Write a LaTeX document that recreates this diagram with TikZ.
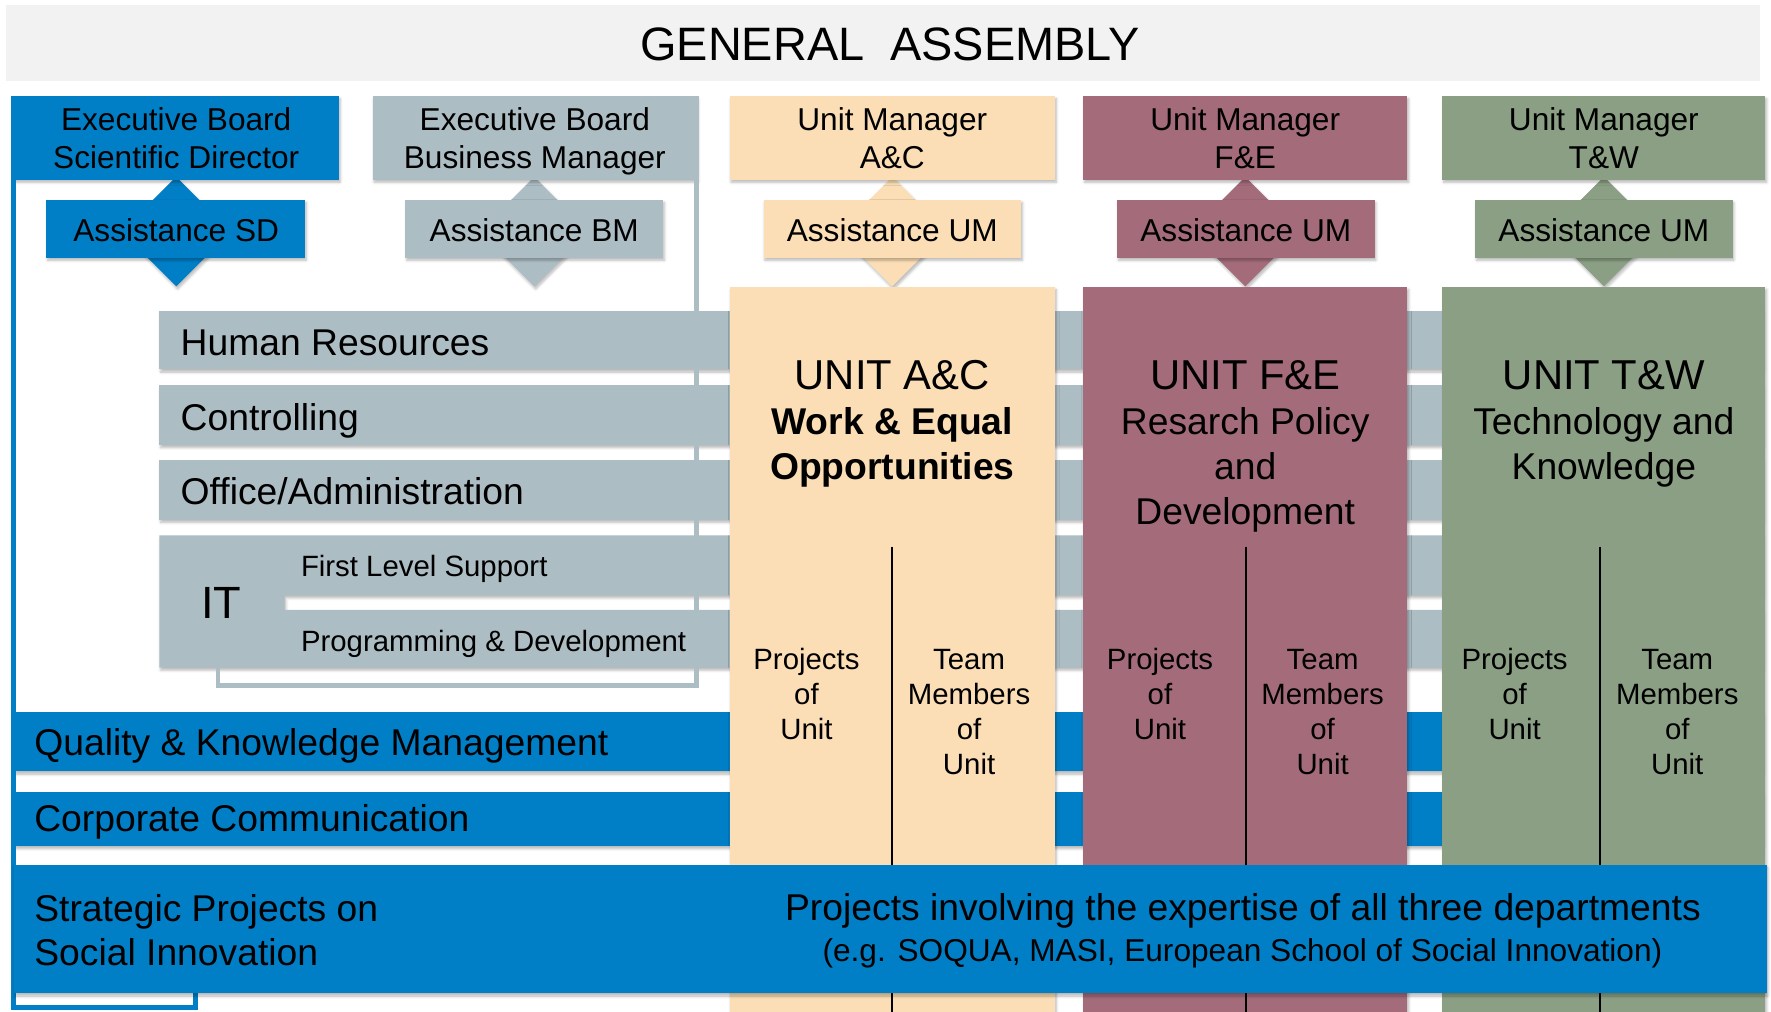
\documentclass[tikz,border=0pt]{standalone}
\usepackage{fontspec}
\setmainfont{Liberation Sans}
\usetikzlibrary{shapes.geometric,shadows.blur}
\definecolor{cblue}{RGB}{0,126,198}
\definecolor{cgray}{RGB}{173,189,196}
\definecolor{cpeach}{RGB}{251,222,181}
\definecolor{cmauve}{RGB}{164,107,122}
\definecolor{csage}{RGB}{138,159,131}
\definecolor{cbanner}{RGB}{242,242,242}
\newcommand{\mkbox}[6]{\node[box,#2,minimum width={(#5)-(#3)},minimum height={(#6)-(#4)}] (#1) at ({((#3)+(#5))/2},{((#4)+(#6))/2}) {};}
\begin{document}
\begin{tikzpicture}[x=1pt,y=-1pt,
  box/.style={rectangle,inner sep=0pt,outer sep=0pt,draw=none},
  sh/.style={blur shadow={shadow xshift=1.2pt,shadow yshift=-2.4pt,shadow blur radius=2.4pt,shadow opacity=28}},
  lbl/.style={inner sep=0pt,outer sep=0pt,text=black},
  ctr/.style={lbl,anchor=base},
  lft/.style={lbl,anchor=base west},
  f41/.style={font=\fontsize{41.5}{50}\selectfont},
  f40/.style={font=\fontsize{40}{48}\selectfont},
  f37/.style={font=\fontsize{37}{44}\selectfont},
  f33/.style={font=\fontsize{33}{39}\selectfont},
  f33b/.style={font=\fontsize{33}{39}\selectfont\bfseries},
  f28/.style={font=\fontsize{28}{34}\selectfont},
  f26/.style={font=\fontsize{26}{31}\selectfont},
  dia/.style={diamond,inner sep=0pt,outer sep=0pt,minimum width=97pt,minimum height=97pt,draw=none,sh},
  divider/.style={draw=black,line width=1.8pt},
  bluel/.style={draw=cblue,line width=4.4pt},
  grayl/.style={draw=cgray,line width=4.4pt},
]
\useasboundingbox (0,0) rectangle (1568,896);

% banner
\mkbox{ga}{fill=cbanner}{5}{4}{1558}{72}
\node[ctr,f41] (gat) at (788,53.7) {GENERAL\ \ ASSEMBLY};

% diamonds behind the assistance boxes
\node[dia,fill=cblue] (dsd) at (156,205) {};
\node[dia,fill=cgray] (dbm) at (473,205) {};
\node[dia,fill=cpeach] (dac) at (790,205) {};
\node[dia,fill=cmauve] (dfe) at (1102.5,205) {};
\node[dia,fill=csage] (dtw) at (1420,205) {};

% top boxes
\mkbox{ebsd}{fill=cblue,sh}{12}{85}{300}{159}
\mkbox{ebbm}{fill=cgray,sh}{330}{85}{617}{159}
\mkbox{umac}{fill=cpeach,sh}{646}{85}{934}{159}
\mkbox{umfe}{fill=cmauve,sh}{959}{85}{1246}{159}
\mkbox{umtw}{fill=csage,sh}{1277}{85}{1563}{159}
\node[ctr,f28] (ebsd1) at (156,115.5) {Executive Board};
\node[ctr,f28] (ebsd2) at (156,149.5) {Scientific Director};
\node[ctr,f28] (ebbm1) at (473.5,115.5) {Executive Board};
\node[ctr,f28] (ebbm2) at (473.5,149.5) {Business Manager};
\node[ctr,f28] (umac1) at (790,115.5) {Unit Manager};
\node[ctr,f28] (umac2) at (790,149.5) {A\&C};
\node[ctr,f28] (umfe1) at (1102.5,115.5) {Unit Manager};
\node[ctr,f28] (umfe2) at (1102.5,149.5) {F\&E};
\node[ctr,f28] (umtw1) at (1420,115.5) {Unit Manager};
\node[ctr,f28] (umtw2) at (1420,149.5) {T\&W};

% assistance boxes
\mkbox{asd}{fill=cblue,sh}{41}{177}{270}{228}
\mkbox{abm}{fill=cgray,sh}{359}{177}{587}{228}
\mkbox{aac}{fill=cpeach,sh}{676}{177}{904}{228}
\mkbox{afe}{fill=cmauve,sh}{989}{177}{1217}{228}
\mkbox{atw}{fill=csage,sh}{1306}{177}{1534}{228}
\node[ctr,f28] (asdt) at (156,214) {Assistance SD};
\node[ctr,f28] (abmt) at (473,214) {Assistance BM};
\node[ctr,f28] (aact) at (790,214) {Assistance UM};
\node[ctr,f28] (afet) at (1103,214) {Assistance UM};
\node[ctr,f28] (atwt) at (1420,214) {Assistance UM};

% grey service bars
\mkbox{hr}{fill=cgray,sh}{141}{275}{1560}{327}
\mkbox{ctrl}{fill=cgray,sh}{141}{341}{1560}{394}
\mkbox{off}{fill=cgray,sh}{141}{407}{1560}{460}
% IT block: one shape with the two sub-bars
\path[fill=cgray,sh] (141,474) -- (1560,474) -- (1560,527) -- (252,527) -- (252,540)
  -- (1560,540) -- (1560,591) -- (141,591) -- cycle;
\node[lft,f33] (hrt) at (160,314.5) {Human Resources};
\node[lft,f33] (ctrlt) at (160,381) {Controlling};
\node[lft,f33] (offt) at (160,446.5) {Office/Administration};
\node[ctr,f40] (itt) at (196,547.5) {IT};
\node[lft,f26] (flst) at (266.5,510.5) {First Level Support};
\node[lft,f26] (pdt) at (266.5,576.5) {Programming \& Development};

% blue bars
\mkbox{qkm}{fill=cblue,sh}{12}{630}{1560}{683}
\mkbox{cc}{fill=cblue,sh}{12}{701}{1560}{749}
\node[lft,f33] (qkmt) at (30.4,668.5) {Quality \& Knowledge Management};
\node[lft,f33] (cct) at (30.4,736.4) {Corporate Communication};

% outline lines
\coordinate (bm1) at (616.5,85);
\coordinate (bm2) at (616.5,607);
\coordinate (bm3) at (193,607);
\coordinate (bm4) at (193,591);
\draw[grayl] (bm1) -- (bm2) -- (bm3) -- (bm4);
\coordinate (sd1) at (12,85);
\coordinate (sd2) at (12,892);
\coordinate (sd3) at (173,892);
\coordinate (sd4) at (173,879);
\draw[bluel] (sd1) -- (sd2) -- (sd3) -- (sd4);

% unit columns
\mkbox{colac}{fill=cpeach,sh}{646}{254}{934}{905}
\mkbox{colfe}{fill=cmauve,sh}{959}{254}{1246}{905}
\mkbox{coltw}{fill=csage,sh}{1277}{254}{1563}{905}
\coordinate (vac) at (790,484);
\coordinate (vfe) at (1103,484);
\coordinate (vtw) at (1417,484);
\draw[divider] (vac) -- (vac |- colac.south);
\draw[divider] (vfe) -- (vfe |- colfe.south);
\draw[divider] (vtw) -- (vtw |- coltw.south);

\node[ctr,f37] (acT) at (790,345) {UNIT A\&C};
\node[ctr,f33b] (acS1) at (790,385) {Work \& Equal};
\node[ctr,f33b] (acS2) at (790,424.5) {Opportunities};
\node[ctr,f37] (feT) at (1102.5,345) {UNIT F\&E};
\node[ctr,f33] (feS1) at (1102.5,385) {Resarch Policy};
\node[ctr,f33] (feS2) at (1102.5,424.5) {and};
\node[ctr,f33] (feS3) at (1102.5,464) {Development};
\node[ctr,f37] (twT) at (1420,345) {UNIT T\&W};
\node[ctr,f33] (twS1) at (1420,385) {Technology and};
\node[ctr,f33] (twS2) at (1420,424.5) {Knowledge};

\node[ctr,f26] (acP1) at (714,592.5) {Projects};
\node[ctr,f26] (acP2) at (714,623.5) {of};
\node[ctr,f26] (acP3) at (714,654.5) {Unit};
\node[ctr,f26] (acM1) at (858,592.5) {Team};
\node[ctr,f26] (acM2) at (858,623.5) {Members};
\node[ctr,f26] (acM3) at (858,654.5) {of};
\node[ctr,f26] (acM4) at (858,685.5) {Unit};
\node[ctr,f26] (feP1) at (1027,592.5) {Projects};
\node[ctr,f26] (feP2) at (1027,623.5) {of};
\node[ctr,f26] (feP3) at (1027,654.5) {Unit};
\node[ctr,f26] (feM1) at (1171,592.5) {Team};
\node[ctr,f26] (feM2) at (1171,623.5) {Members};
\node[ctr,f26] (feM3) at (1171,654.5) {of};
\node[ctr,f26] (feM4) at (1171,685.5) {Unit};
\node[ctr,f26] (twP1) at (1341,592.5) {Projects};
\node[ctr,f26] (twP2) at (1341,623.5) {of};
\node[ctr,f26] (twP3) at (1341,654.5) {Unit};
\node[ctr,f26] (twM1) at (1485,592.5) {Team};
\node[ctr,f26] (twM2) at (1485,623.5) {Members};
\node[ctr,f26] (twM3) at (1485,654.5) {of};
\node[ctr,f26] (twM4) at (1485,685.5) {Unit};

% strategic projects bar
\mkbox{strat}{fill=cblue,sh}{12}{766}{1564}{879.5}
\node[lft,f33] (st1) at (30.4,816) {Strategic Projects on};
\node[lft,f33] (st2) at (30.4,854.4) {Social Innovation};
\node[ctr,f33] (pi1) at (1100.5,815) {Projects involving the expertise of all three departments};
\node[ctr,f28] (pi2) at (1100,851) {(e.g. SOQUA, MASI, European School of Social Innovation)};
\end{tikzpicture}
\end{document}
